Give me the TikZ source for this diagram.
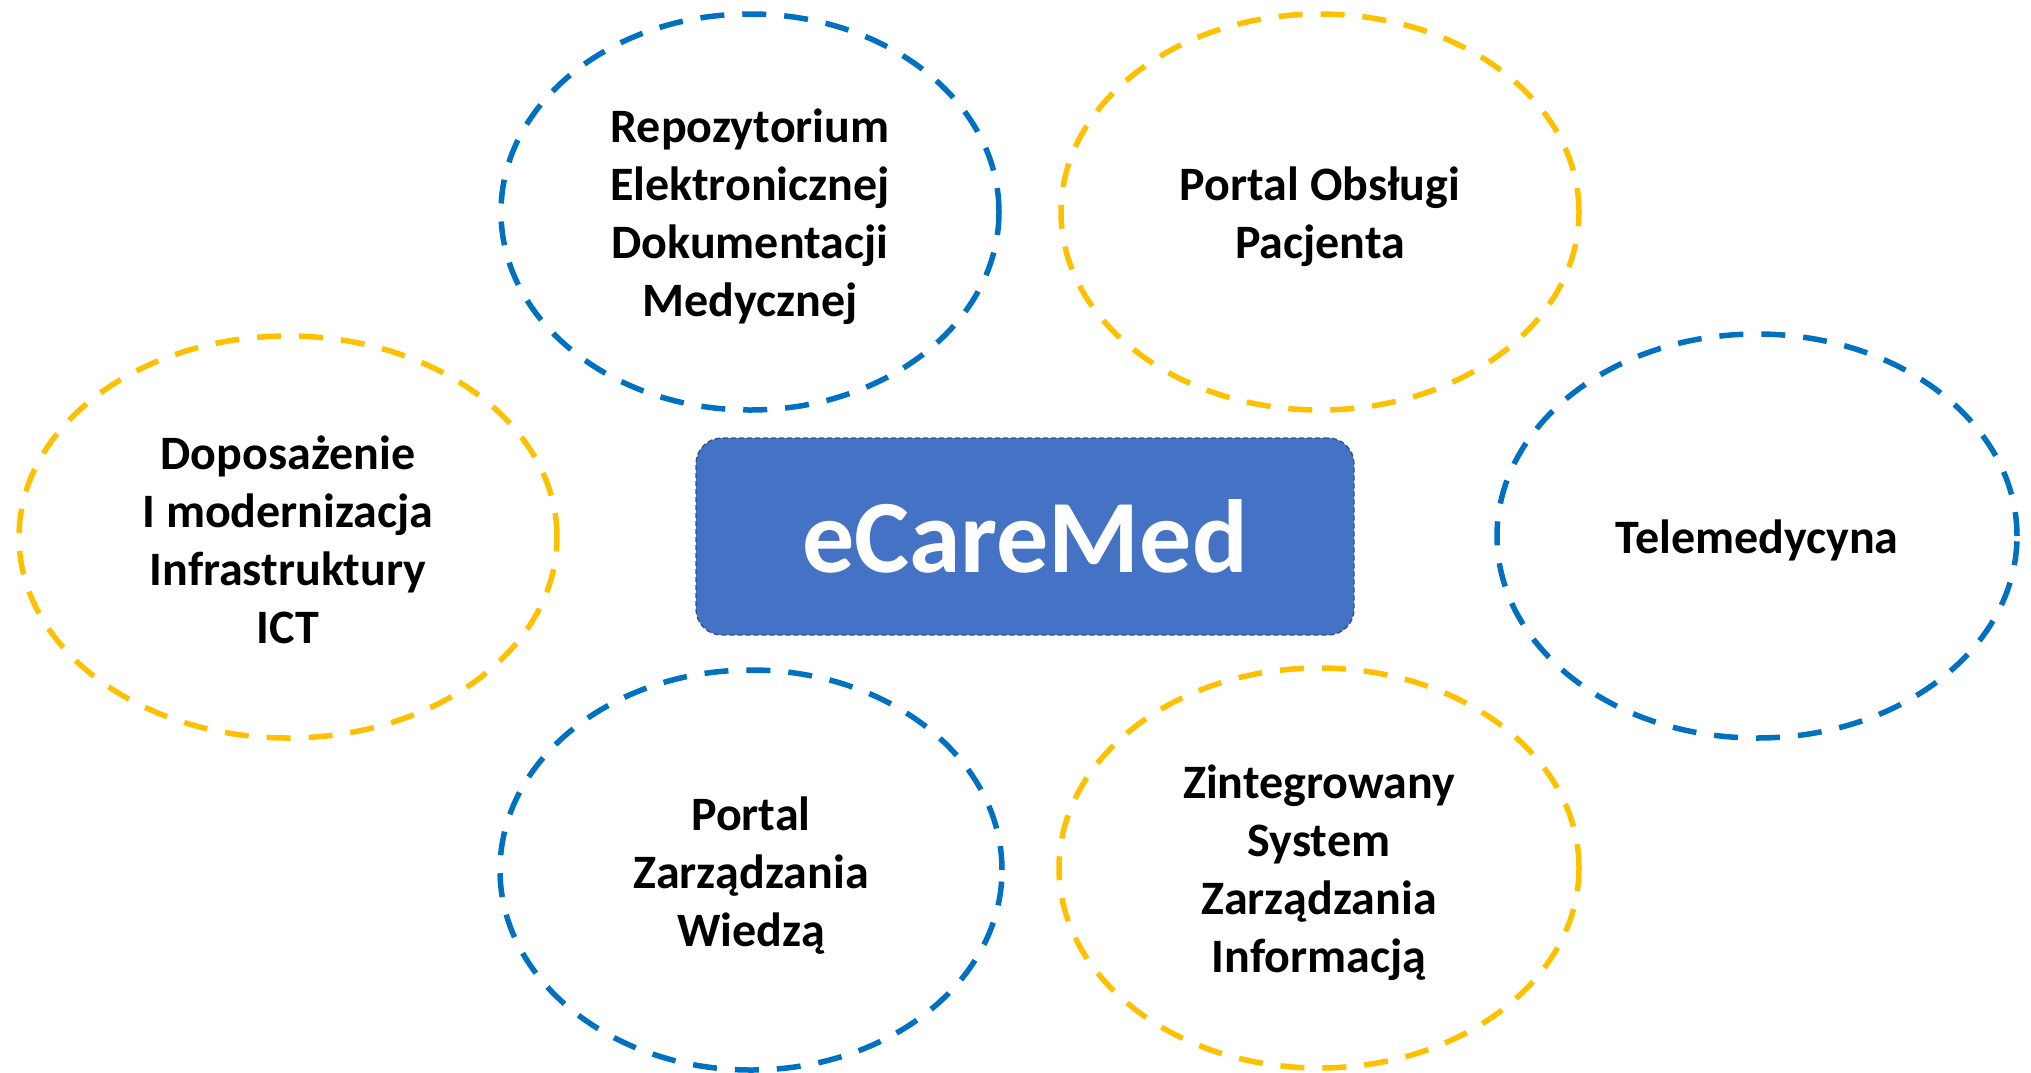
\documentclass[tikz,border=0pt]{standalone}
\usepackage{fontspec}
\setmainfont{Carlito}
\usetikzlibrary{shapes.geometric}
\definecolor{cblue}{HTML}{0070C0}
\definecolor{cyellow}{HTML}{FFC000}
\definecolor{cfill}{HTML}{4472C4}
\definecolor{cborder}{HTML}{2F528F}
\begin{document}
\begin{tikzpicture}[x=0.5pt,y=-0.5pt,
  bubble/.style={ellipse,inner sep=0pt,outer sep=0pt,line width=2.75pt,
    dash pattern=on 12pt off 9pt},
  bluebub/.style={bubble,draw=cblue},
  yellowbub/.style={bubble,draw=cyellow},
  bubtext/.style={align=center,inner sep=0pt,
    font=\fontsize{24}{29}\selectfont\bfseries},
  core/.style={rectangle,rounded corners=13pt,fill=cfill,draw=cborder,
    line width=0.7pt,dash pattern=on 2.5pt off 1.5pt,text=white,
    font=\fontsize{52}{60}\selectfont\bfseries}]
\useasboundingbox (0,0) rectangle (2031,1072);
\node[bluebub,minimum width=249pt,minimum height=198pt] (repo) at (750,212) {};
\node[bubtext] (repot) at ([yshift=-2.6pt]repo.center)
  {Repozytorium\\Elektronicznej\\Dokumentacji\\Medycznej};
\node[yellowbub,minimum width=259pt,minimum height=198pt] (portalo) at (1320,212) {};
\node[bubtext] (portalot) at ([yshift=-2.6pt]portalo.center)
  {Portal Obsługi\\Pacjenta};
\node[yellowbub,minimum width=269pt,minimum height=201pt] (dopo) at (288,537) {};
\node[bubtext] (dopot) at ([yshift=-1.5pt]dopo.center)
  {Doposażenie\\I modernizacja\\Infrastruktury\\ICT};
\node[bluebub,minimum width=260pt,minimum height=202pt] (tele) at (1757,536) {};
\node[bubtext] (telet) at ([yshift=-2pt]tele.center)
  {Telemedycyna};
\node[bluebub,minimum width=251pt,minimum height=200pt] (portalz) at (751,870) {};
\node[bubtext] (portalzt) at ([yshift=-2.6pt]portalz.center)
  {Portal\\Zarządzania\\Wiedzą};
\node[yellowbub,minimum width=260pt,minimum height=200pt] (zint) at (1319,868) {};
\node[bubtext] (zintt) at ([yshift=-2.6pt]zint.center)
  {Zintegrowany\\System\\Zarządzania\\Informacją};
\node[core,minimum width=329pt,minimum height=98.5pt] (ecare) at (1025,536.5)
  {eCareMed};
\end{tikzpicture}
\end{document}
